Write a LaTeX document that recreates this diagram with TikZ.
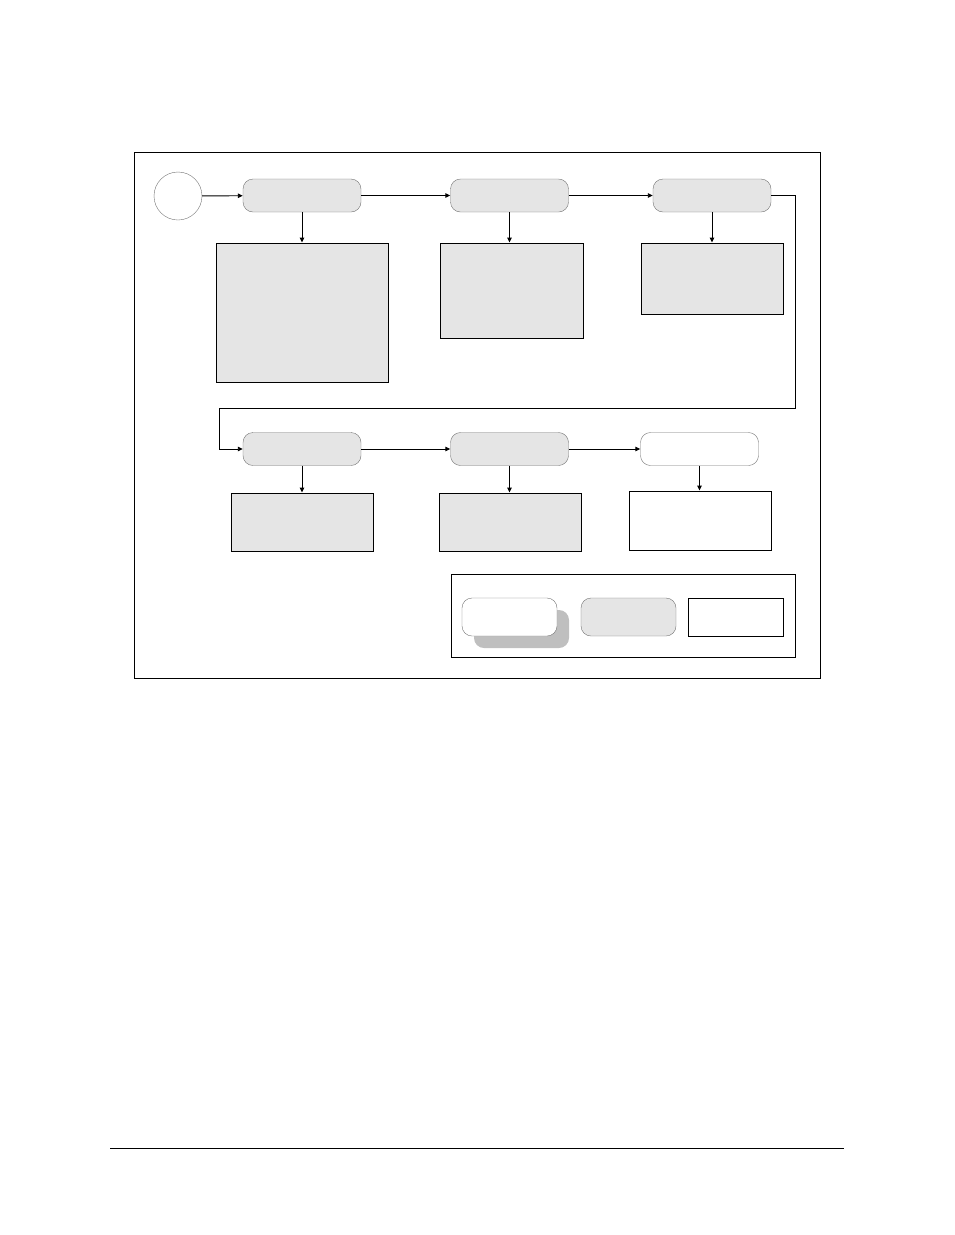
\documentclass[tikz,border=0pt]{standalone}
\usepackage{tikz}
\usetikzlibrary{arrows.meta}

\begin{document}
\begin{tikzpicture}[x=1pt,y=-1pt,
            stage/.style={draw=black!55,fill=black!10,rounded corners=10pt,
                minimum width=118pt,minimum height=33pt,inner sep=0pt},
            openstage/.style={stage,fill=white},
            detail/.style={draw=black,fill=black!10,inner sep=0pt,line width=0.9pt},
            opendetail/.style={detail,fill=white},
            flow/.style={-{Triangle[length=5pt,width=4.5pt]},line width=0.9pt}]
    \useasboundingbox (0,0) rectangle (954,1235);

    % frame
    \node[draw,line width=0.9pt,minimum width=686pt,minimum height=526pt,inner sep=0pt]
        (frame) at (477,415) {};

    % first row
    \node[circle,draw=black!55,minimum size=48pt,inner sep=0pt] (start) at (178,196) {};
    \node[stage] (s1) at (302,195.5) {};
    \node[stage] (s2) at (509.5,195.5) {};
    \node[stage] (s3) at (712,195.5) {};

    \node[detail,minimum width=172pt,minimum height=139pt] (d1) at (302,312.5) {};
    \node[detail,minimum width=143pt,minimum height=95pt] (d2) at (511.5,290.5) {};
    \node[detail,minimum width=142pt,minimum height=71pt] (d3) at (712,278.5) {};

    % second row
    \node[stage] (s4) at (302,449) {};
    \node[stage] (s5) at (509.5,449) {};
    \node[openstage] (s6) at (699.5,449) {};

    \node[detail,minimum width=142pt,minimum height=58pt] (d4) at (302,522) {};
    \node[detail,minimum width=142pt,minimum height=58pt] (d5) at (510,522) {};
    \node[opendetail,minimum width=142pt,minimum height=59pt] (d6) at (700,520.5) {};

    % connectors
    \draw[flow] (start) -- (s1);
    \draw[flow] (s1) -- (s2);
    \draw[flow] (s2) -- (s3);
    \foreach \a/\b in {s1/d1,s2/d2,s3/d3,s4/d4,s5/d5,s6/d6}
        \draw[flow] (\a.south) -- (\a.south |- \b.north);
    \draw[flow] (s3.east) -| (795,408) -| (219,449) -- (s4.west);
    \draw[flow] (s4) -- (s5);
    \draw[flow] (s5) -- (s6);

    % legend
    \node[draw,line width=0.9pt,minimum width=344pt,minimum height=83pt,inner sep=0pt]
        (legend) at (623,615.5) {};
    \node[fill=black!25,rounded corners=10pt,minimum width=95pt,minimum height=38pt]
        (keyshadow) at (521.5,629) {};
    \node[openstage,minimum width=95pt,minimum height=38pt] (keyopen) at (509.5,617) {};
    \node[stage,minimum width=95pt,minimum height=38pt] (keystage) at (628.5,617) {};
    \node[opendetail,minimum width=95pt,minimum height=38pt] (keybox) at (735.5,617) {};

    % footer rule
    \coordinate (rulel) at (110,1148);
    \coordinate (ruler) at (844,1148);
    \draw[line width=0.9pt] (rulel) -- (ruler);
\end{tikzpicture}
\end{document}
